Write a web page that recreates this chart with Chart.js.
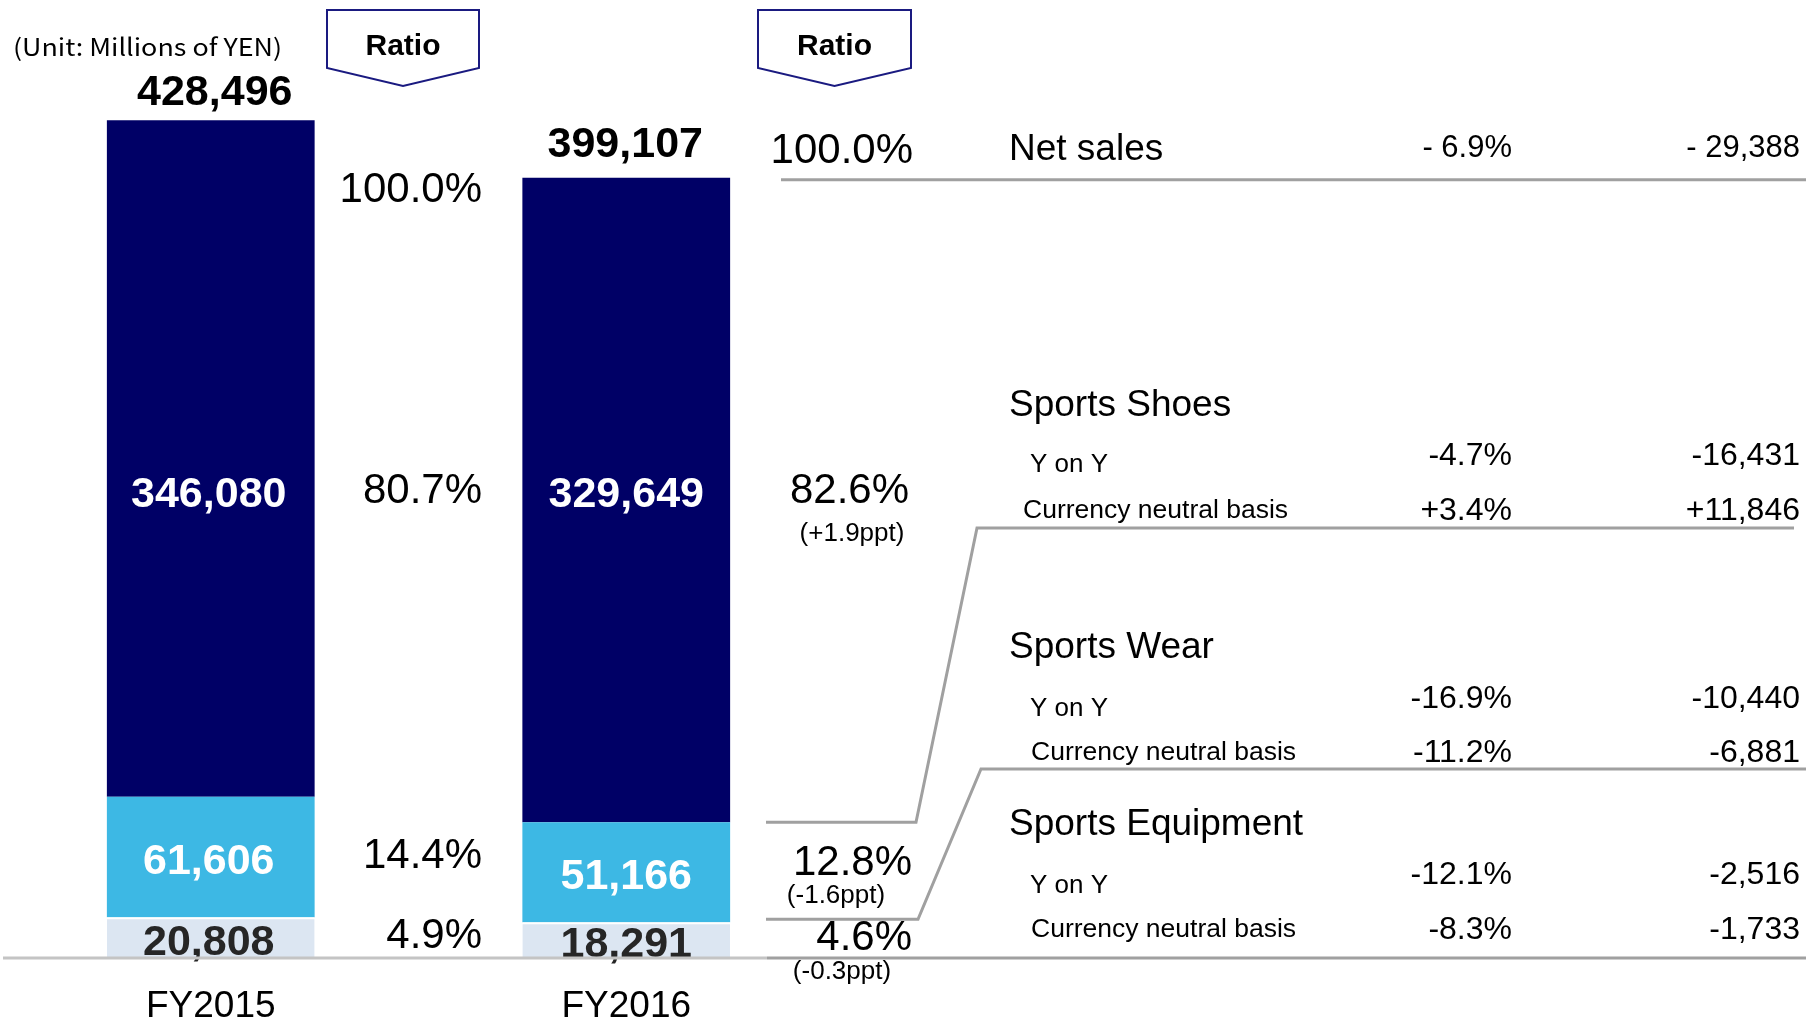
<!DOCTYPE html>
<html>
<head>
<meta charset="utf-8">
<title>Net sales by product</title>
<script src="https://cdn.jsdelivr.net/npm/chart.js@4/dist/chart.umd.min.js"></script>
<style>
  html, body { margin: 0; padding: 0; background: #fff; }
  canvas { display: block; }
</style>
</head>
<body>
<canvas id="salesChart" width="1806" height="1019"></canvas>
<script>
// Net sales by category (millions of yen)
const years = ['FY2015', 'FY2016'];
const shoes = [346080, 329649];
const wear = [61606, 51166];
const equipment = [20808, 18291];
const totals = [428496, 399107];

// Share of net sales and change in share
const ratios2015 = ['100.0%', '80.7%', '14.4%', '4.9%'];
const ratios2016 = ['100.0%', '82.6%', '12.8%', '4.6%'];
const ratioChanges = ['(+1.9ppt)', '(-1.6ppt)', '(-0.3ppt)'];

// Year-on-year table on the right
const segments = ['Net sales', 'Sports Shoes', 'Sports Wear', 'Sports Equipment'];
const rowLabels = ['Y on Y', 'Currency neutral basis'];
const yoyRates = ['- 6.9%', '-4.7%', '-16.9%', '-12.1%'];
const yoyAmounts = ['- 29,388', '-16,431', '-10,440', '-2,516'];
const neutralRates = [null, '+3.4%', '-11.2%', '-8.3%'];
const neutralAmounts = [null, '+11,846', '-6,881', '-1,733'];

const NAVY = '#000066';
const SKY = '#3db8e4';
const PALE = '#dce6f2';
const LINE = '#a0a0a0';
const FONT = '"Liberation Sans", Arial, sans-serif';

const fmt = (v) => v.toLocaleString('en-US');

// 'middle' sits a little above the cap centre, so nudge down
function text(ctx, str, x, y, size, align, opts = {}) {
    ctx.save();
    ctx.font = (opts.bold ? 'bold ' : '') + size + 'px ' + (opts.family || FONT);
    ctx.fillStyle = opts.color || '#000';
    ctx.textAlign = align;
    ctx.textBaseline = 'middle';
    if (opts.width) {
        // stretch to a fixed width
        const w = ctx.measureText(str).width;
        ctx.translate(x, y + 3);
        ctx.scale(opts.width / w, 1);
        ctx.fillText(str, 0, 0);
    } else {
        ctx.fillText(str, x, y + 3);
    }
    ctx.restore();
}

function polyline(ctx, pts, color, width) {
    ctx.save();
    ctx.strokeStyle = color;
    ctx.lineWidth = width;
    ctx.lineJoin = 'miter';
    ctx.beginPath();
    pts.forEach(([x, y], i) => (i ? ctx.lineTo(x, y) : ctx.moveTo(x, y)));
    ctx.stroke();
    ctx.restore();
}

// "Ratio" header tag with a downward point
function ratioTag(ctx, left, right) {
    const mid = (left + right) / 2;
    ctx.save();
    ctx.strokeStyle = '#1a1a80';
    ctx.lineWidth = 2;
    ctx.beginPath();
    ctx.moveTo(left, 10);
    ctx.lineTo(right, 10);
    ctx.lineTo(right, 68);
    ctx.lineTo(mid, 86);
    ctx.lineTo(left, 68);
    ctx.closePath();
    ctx.stroke();
    ctx.restore();
    text(ctx, 'Ratio', mid, 44, 30, 'center', { bold: true });
}

const annotations = {
    id: 'annotations',
    afterDatasetsDraw(chart) {
        const ctx = chart.ctx;
        const y = chart.scales.y;
        const x = chart.scales.x;

        // values inside the bars
        const labelColors = ['#262626', '#fff', '#fff'];
        chart.data.datasets.forEach((ds, i) => {
            chart.getDatasetMeta(i).data.forEach((bar, j) => {
                let cy = (bar.y + bar.base) / 2 + 2;
                if (i === 2) cy = 492;
                text(ctx, fmt(ds.data[j]), bar.x - (j ? 0 : 2), cy, 43, 'center', { bold: true, color: labelColors[i] });
            });
        });

        // totals above the stacks
        const topMeta = chart.getDatasetMeta(2).data;
        topMeta.forEach((bar, j) => {
            text(ctx, fmt(totals[j]), bar.x + (j ? -1 : 4), bar.y - (j ? 36 : 30), 43, 'center', { bold: true });
        });

        // category labels under the baseline
        years.forEach((yr, j) => {
            text(ctx, yr, x.getPixelForValue(j), 1004, 37, 'center');
        });

        // unit note and ratio headers
        text(ctx, '(Unit: Millions of YEN)', 13, 44, 24, 'left', {
            family: '"Noto Sans CJK JP", "Noto Sans", sans-serif',
            width: 269
        });
        ratioTag(ctx, 327, 479);
        ratioTag(ctx, 758, 911);

        // share columns
        const leftRows = [187, 488, 853, 933];
        ratios2015.forEach((r, i) => text(ctx, r, 482, leftRows[i], 42, 'right'));
        const rightRows = [[913, 148], [909, 488], [912, 860], [912, 935]];
        ratios2016.forEach((r, i) => text(ctx, r, rightRows[i][0], rightRows[i][1], 42, 'right'));
        const changePos = [[852, 531], [836, 893], [842, 969]];
        ratioChanges.forEach((c, i) => text(ctx, c, changePos[i][0], changePos[i][1], 26, 'center'));

        // segment boundaries of the FY2016 bar
        const total16 = shoes[1] + wear[1] + equipment[1];
        const yTop = y.getPixelForValue(total16);
        const yShoes = y.getPixelForValue(wear[1] + equipment[1]);
        const yWear = y.getPixelForValue(equipment[1]);
        const yBase = y.getPixelForValue(0);

        polyline(ctx, [[3, yBase], [767, yBase]], '#c4c4c4', 3);
        polyline(ctx, [[781, yTop + 2], [1806, yTop + 2]], LINE, 3);
        polyline(ctx, [[766, yShoes], [916, yShoes], [977, 528], [1794, 528]], LINE, 3);
        polyline(ctx, [[766, yWear - 3], [918, yWear - 3], [981, 769], [1806, 769]], LINE, 3);
        polyline(ctx, [[767, yBase], [1806, yBase]], LINE, 3);

        // year-on-year table
        text(ctx, segments[0], 1009, 147, 37, 'left');
        text(ctx, yoyRates[0], 1512, 145, 31, 'right');
        text(ctx, yoyAmounts[0], 1800, 145, 31, 'right');

        const groups = [
            { title: 403, yoy: 462, yoyVal: 453, cn: 508, cnX: 1023 },
            { title: 645, yoy: 706, yoyVal: 696, cn: 750, cnX: 1031 },
            { title: 822, yoy: 883, yoyVal: 872, cn: 927, cnX: 1031 }
        ];
        groups.forEach((g, k) => {
            const i = k + 1;
            text(ctx, segments[i], 1009, g.title, 37, 'left');
            text(ctx, rowLabels[0], 1030, g.yoy, 26, 'left');
            text(ctx, rowLabels[1], g.cnX, g.cn, 26.5, 'left');
            text(ctx, yoyRates[i], 1512, g.yoyVal, 32, 'right');
            text(ctx, yoyAmounts[i], 1800, g.yoyVal, 32, 'right');
            text(ctx, neutralRates[i], 1512, g.cn, 32, 'right');
            text(ctx, neutralAmounts[i], 1800, g.cn, 32, 'right');
        });
    }
};

const ctx = document.getElementById('salesChart').getContext('2d');

const salesChart = new Chart(ctx, {
    type: 'bar',
    data: {
        labels: years,
        datasets: [
            {
                label: 'Sports Equipment',
                data: equipment,
                backgroundColor: PALE,
                borderColor: '#fff',
                borderWidth: { top: 2, right: 0, bottom: 0, left: 0 },
                borderSkipped: false
            },
            {
                label: 'Sports Wear',
                data: wear,
                backgroundColor: SKY,
                borderWidth: 0
            },
            {
                label: 'Sports Shoes',
                data: shoes,
                backgroundColor: NAVY,
                borderWidth: 0
            }
        ]
    },
    options: {
        responsive: false,
        animation: false,
        barPercentage: 0.5,
        categoryPercentage: 1.0,
        layout: {
            padding: { left: 3, right: 972, top: 0, bottom: 61 }
        },
        scales: {
            x: { stacked: true, display: false },
            y: { stacked: true, display: false, min: 0, max: 490000 }
        },
        plugins: {
            legend: { display: false },
            tooltip: { enabled: false }
        }
    },
    plugins: [annotations]
});
</script>
</body>
</html>
